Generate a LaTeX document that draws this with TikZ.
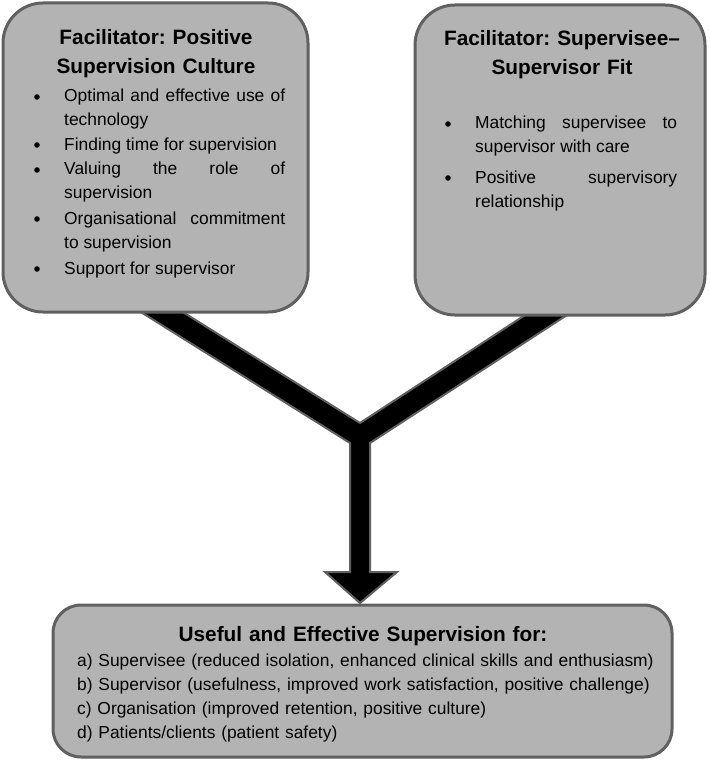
\documentclass[tikz,border=0pt]{standalone}
\usepackage{fontspec}
\setmainfont{Liberation Sans}

\definecolor{boxfill}{RGB}{179,179,179}
\definecolor{boxline}{RGB}{96,96,96}
\newcommand{\itemfont}{\fontsize{17.4}{24}\selectfont\frenchspacing\hyphenpenalty=10000 }
\newcommand{\headfont}{\fontsize{20.8}{29}\selectfont\bfseries\frenchspacing}

\tikzset{
  panel/.style={draw=boxline, fill=boxfill, line width=3pt, inner sep=0pt},
  heading/.style={anchor=base, font=\headfont, text width=300pt, align=center, inner sep=0pt},
  entry/.style={anchor=base west, font=\itemfont, align=justify, inner sep=0pt},
  flow/.style={fill=black, draw=boxline, line width=2pt, line join=miter}
}

\begin{document}
\begin{tikzpicture}[x=1pt,y=-1pt]
        \useasboundingbox (0,0) rectangle (709,762);

        % the joined arrow, under the boxes
        \draw[flow] (128,304) -- (170,304) -- (360,423) -- (542,304) -- (584,304)
                -- (370,443) -- (370,572) -- (397,572) -- (360,603)
                -- (325,572) -- (350,572) -- (350,443) -- cycle;

        % draw the three boxes
        \node[panel, rounded corners=40pt, minimum width=305pt, minimum height=309pt] (culture) at (155.5,157.5) {};
        \node[panel, rounded corners=40pt, minimum width=290pt, minimum height=310pt] (fit) at (560,160) {};
        \node[panel, rounded corners=28pt, minimum width=619pt, minimum height=152pt] (outcome) at (362.5,681) {};

        % headings
        \node[heading] (cultureHead) at (156,45) {Facilitator: Positive\\Supervision Culture};
        \node[heading] (fitHead) at (562,46) {Facilitator: Supervisee–\\Supervisor Fit};
        \node[heading, text width=600pt] (outcomeHead) at (363,641) {Useful and Effective Supervision for:};

        % bullets of the left box
        \foreach \y/\txt [count=\i] in {
            102/{Optimal and effective use of\linebreak technology},
            150/{Finding time for supervision},
            175/{Valuing the role of\linebreak supervision},
            224/{Organisational commitment\linebreak to supervision},
            274/{Support for supervisor}} {
                \fill (37,\y-5) circle(2.8);
                \node[entry, text width=221pt] (culture\i) at (64,\y) {\txt};
        }

        % bullets of the right box
        \foreach \y/\txt [count=\i] in {
            129/{Matching supervisee to\linebreak supervisor with care},
            183/{Positive supervisory\linebreak relationship}} {
                \fill (448,\y-5) circle(2.8);
                \node[entry, text width=202pt] (fit\i) at (475,\y) {\txt};
        }

        % outcomes
        \node[entry, text width=590pt, align=left] (outcomeList) at (77,666)
            {a) Supervisee (reduced isolation, enhanced clinical skills and enthusiasm)\\
             b) Supervisor (usefulness, improved work satisfaction, positive challenge)\\
             c) Organisation (improved retention, positive culture)\\
             d) Patients/clients (patient safety)};
\end{tikzpicture}
\end{document}
